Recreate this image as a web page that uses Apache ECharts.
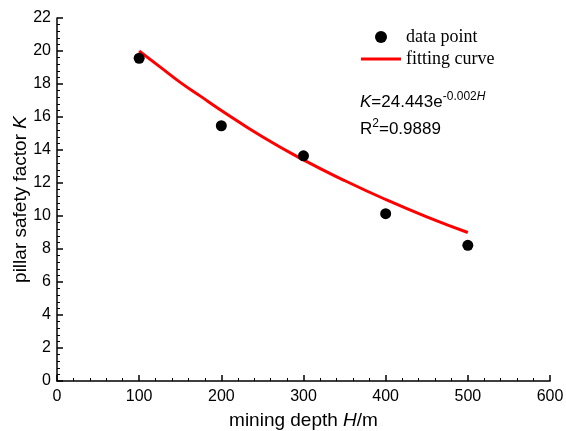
<!DOCTYPE html>
<html>
<head>
<meta charset="utf-8">
<script src="https://cdn.jsdelivr.net/npm/echarts@6/dist/echarts.min.js"></script>
<style>html,body{margin:0;padding:0;background:#fff}#c{width:566px;height:431px}</style>
</head>
<body>
<div id="c"></div>
<script>
const depths = [100, 200, 300, 400, 500];
const safetyFactors = [19.56, 15.47, 13.65, 10.14, 8.22];
const curveDepths = [100, 125, 150, 175, 200, 250, 300, 350, 400, 450, 500];
const curveValues = [20.0, 19.05, 18.1, 17.25, 16.4, 14.8, 13.4, 12.15, 11.0, 9.95, 9.0];

const chart = echarts.init(document.getElementById('c'));
const font = '"Liberation Sans", Arial, sans-serif';
chart.setOption({
  animation: false,
  backgroundColor: '#fff',
  grid: {left: 57, right: 16, top: 18, bottom: 50, outerBoundsMode: 'none', containLabel: false},
  legend: {
    orient: 'vertical', left: 356, top: 23, itemWidth: 40, itemHeight: 12, itemGap: 4,
    textStyle: {fontFamily: '"Liberation Serif", "Times New Roman", serif', fontSize: 18, color: '#000'},
    data: [
      {name: 'data point', icon: 'circle', itemStyle: {color: '#000', opacity: 1}},
      {name: 'fitting curve', icon: 'path://M0,0H40V3H0Z', itemStyle: {color: '#ff0000'}}
    ]
  },
  xAxis: {
    type: 'value', min: 0, max: 600, interval: 100,
    name: 'mining depth {i|H}/m', nameLocation: 'middle', nameGap: 30, nameMoveOverlap: false,
    nameTextStyle: {fontFamily: font, fontSize: 19, color: '#000', rich: {i: {fontStyle: 'italic', fontFamily: font, fontSize: 19}}},
    axisLine: {lineStyle: {color: '#000', width: 1.5}},
    axisTick: {inside: true, length: 6, lineStyle: {color: '#000', width: 1.5}},
    minorTick: {show: true, splitNumber: 5, length: 3, lineStyle: {color: '#000', width: 1}},
    axisLabel: {fontFamily: font, fontSize: 16, color: '#000', margin: 8},
    splitLine: {show: false}
  },
  yAxis: {
    type: 'value', min: 0, max: 22, interval: 2,
    name: 'pillar safety factor {i|K}', nameLocation: 'middle', nameGap: 27, nameMoveOverlap: false,
    nameTextStyle: {fontFamily: font, fontSize: 19, color: '#000', rich: {i: {fontStyle: 'italic', fontFamily: font, fontSize: 19}}},
    axisLine: {show: true, lineStyle: {color: '#000', width: 1.5}},
    axisTick: {show: true, inside: true, length: 6, lineStyle: {color: '#000', width: 1.5}},
    minorTick: {show: true, splitNumber: 5, length: 3, lineStyle: {color: '#000', width: 1}},
    axisLabel: {fontFamily: font, fontSize: 16, color: '#000', margin: 6},
    splitLine: {show: false}
  },
  graphic: [{
    type: 'text', left: 360, top: 91,
    style: {
      text: '{i|K}{n|=24.443e}{s|-0.002}{si|H}\n{n|R}{s|2}{n|=0.9889}',
      rich: {
        i: {fontFamily: font, fontStyle: 'italic', fontSize: 17, fill: '#000', lineHeight: 27},
        n: {fontFamily: font, fontSize: 17, fill: '#000', lineHeight: 27},
        s: {fontFamily: font, fontSize: 12, fill: '#000', padding: [0, 0, 11, 0]},
        si: {fontFamily: font, fontStyle: 'italic', fontSize: 12, fill: '#000', padding: [0, 0, 11, 0]}
      }
    }
  }],
  series: [{
    name: 'data point', type: 'scatter', symbol: 'circle', symbolSize: 11,
    itemStyle: {color: '#000', opacity: 1},
    data: depths.map((d, i) => [d, safetyFactors[i]]), z: 3
  }, {
    name: 'fitting curve', type: 'line', smooth: 0.5, symbol: 'none', showSymbol: false,
    lineStyle: {color: '#ff0000', width: 3}, itemStyle: {color: '#ff0000'},
    data: curveDepths.map((d, i) => [d, curveValues[i]]), z: 2
  }]
});
</script>
</body>
</html>
